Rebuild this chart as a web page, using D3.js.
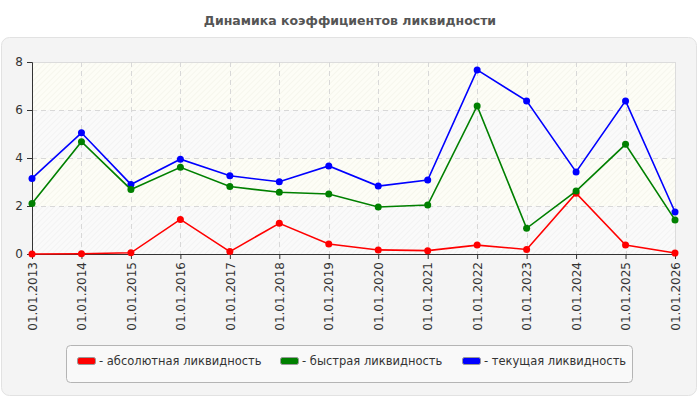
<!DOCTYPE html>
<html>
<head>
<meta charset="utf-8">
<script src="https://cdn.jsdelivr.net/npm/d3@7"></script>
<style>
  body { margin: 0; background: #fff; font-family: "DejaVu Sans", Verdana, sans-serif; }
</style>
</head>
<body>
<div id="chart"></div>
<script>
// данные
const dates = ["01.01.2013", "01.01.2014", "01.01.2015", "01.01.2016", "01.01.2017", "01.01.2018", "01.01.2019",
               "01.01.2020", "01.01.2021", "01.01.2022", "01.01.2023", "01.01.2024", "01.01.2025", "01.01.2026"];
const absLiq = [0, 0.01, 0.05, 1.44, 0.1, 1.28, 0.42, 0.17, 0.14, 0.37, 0.19, 2.53, 0.37, 0.04];
const quickLiq = [2.1, 4.68, 2.69, 3.61, 2.81, 2.57, 2.5, 1.96, 2.04, 6.17, 1.07, 2.62, 4.57, 1.42];
const currLiq = [3.15, 5.05, 2.9, 3.95, 3.26, 3.01, 3.67, 2.83, 3.08, 7.67, 6.38, 3.42, 6.38, 1.75];
const yTicks = [0, 2, 4, 6, 8];
const seriesNames = ["абсолютная ликвидность", "быстрая ликвидность", "текущая ликвидность"];
const seriesColors = ["#ff0000", "#008000", "#0000ff"];

const FONT = "'DejaVu Sans', Verdana, sans-serif";
const W = 700, H = 400;
const plot = { left: 32, right: 675, top: 62, bottom: 254 };

const svg = d3.select("#chart").append("svg")
    .attr("width", W).attr("height", H)
    .attr("font-family", FONT);

// штриховка
const defs = svg.append("defs");
function hatch(id, bg, line) {
    const p = defs.append("pattern").attr("id", id)
        .attr("patternUnits", "userSpaceOnUse")
        .attr("width", 4).attr("height", 4)
        .attr("patternTransform", "rotate(45)");
    p.append("rect").attr("width", 4).attr("height", 4).attr("fill", bg);
    p.append("line").attr("x1", 0).attr("y1", 0).attr("x2", 0).attr("y2", 4)
        .attr("stroke", line).attr("stroke-width", 1);
}
hatch("hatchY", "#fdfdf6", "#f0f0e4");
hatch("hatchG", "#fafafa", "#ececec");

// заголовок
svg.append("text")
    .attr("x", 350).attr("y", 25)
    .attr("text-anchor", "middle")
    .attr("font-size", 12.5).attr("font-weight", "bold")
    .attr("fill", "#555")
    .text("Динамика коэффициентов ликвидности");

// панель
svg.append("rect")
    .attr("x", 1.5).attr("y", 37.5).attr("width", 695).attr("height", 358)
    .attr("rx", 8).attr("fill", "#f4f4f4").attr("stroke", "#e2e2e2");

const x = d3.scalePoint().domain(dates).range([plot.left, plot.right]);
const y = d3.scaleLinear().domain([0, 8]).range([plot.bottom, plot.top]);

// полосы фона
const g = svg.append("g");
d3.range(0, 8, 2).forEach((v, i) => {
    g.append("rect")
        .attr("x", plot.left).attr("y", y(v + 2))
        .attr("width", plot.right - plot.left).attr("height", y(v) - y(v + 2))
        .attr("fill", i % 2 ? "url(#hatchY)" : "url(#hatchG)");
});
g.append("line")
    .attr("x1", plot.left).attr("x2", plot.right)
    .attr("y1", plot.top + 0.5).attr("y2", plot.top + 0.5)
    .attr("stroke", "#dcdcdc");
g.append("line")
    .attr("x1", plot.right + 0.5).attr("x2", plot.right + 0.5)
    .attr("y1", plot.top).attr("y2", plot.bottom)
    .attr("stroke", "#dcdcdc");

// сетка
g.selectAll(".vg").data(dates.slice(1, -1)).join("line")
    .attr("x1", d => Math.round(x(d)) + 0.5).attr("x2", d => Math.round(x(d)) + 0.5)
    .attr("y1", plot.top).attr("y2", plot.bottom)
    .attr("stroke", "#d8d8d8").attr("stroke-dasharray", "5,4");
g.selectAll(".hg").data(yTicks.slice(1, -1)).join("line")
    .attr("x1", plot.left).attr("x2", plot.right)
    .attr("y1", d => Math.round(y(d)) + 0.5).attr("y2", d => Math.round(y(d)) + 0.5)
    .attr("stroke", "#d8d8d8").attr("stroke-dasharray", "5,4");

// оси
const yAxis = svg.append("g")
    .attr("transform", `translate(${plot.left},0)`)
    .call(d3.axisLeft(y).tickValues(yTicks).tickSize(5).tickPadding(4));
const xAxis = svg.append("g")
    .attr("transform", `translate(0,${plot.bottom})`)
    .call(d3.axisBottom(x).tickSize(5).tickSizeOuter(0));
[yAxis, xAxis].forEach(a => {
    a.select(".domain").attr("stroke", "#333");
    a.selectAll(".tick line").attr("stroke", "#333");
    a.selectAll("text").attr("font-size", 12).attr("fill", "#333")
        .attr("font-family", FONT);
});
xAxis.selectAll("text")
    .attr("transform", "rotate(-90)")
    .attr("text-anchor", "end")
    .attr("x", -8).attr("y", 0).attr("dy", "0.35em");

// линии
const series = [absLiq, currLiq, quickLiq];
const colorsByData = [seriesColors[0], seriesColors[2], seriesColors[1]];
const line = d3.line().x((d, i) => x(dates[i])).y(d => y(d));
series.forEach((s, k) => {
    const c = colorsByData[k];
    svg.append("path").datum(s)
        .attr("d", line).attr("fill", "none")
        .attr("stroke", c).attr("stroke-width", 1.6);
    svg.append("g").selectAll("circle").data(s).join("circle")
        .attr("cx", (d, i) => x(dates[i])).attr("cy", d => y(d))
        .attr("r", 3.5).attr("fill", c);
});

// легенда
svg.append("rect")
    .attr("x", 66.5).attr("y", 345.5).attr("width", 566).attr("height", 37)
    .attr("rx", 4).attr("fill", "#f9f9f9").attr("stroke", "#b4b4b4");
const legendX = [77, 280, 462];
seriesNames.forEach((n, i) => {
    const lg = svg.append("g").attr("transform", `translate(${legendX[i]},357)`);
    lg.append("rect").attr("x", 0.5).attr("y", 0.5).attr("width", 18).attr("height", 7)
        .attr("rx", 2).attr("fill", seriesColors[i]).attr("stroke", "#999");
    lg.append("text").attr("x", 22).attr("y", 4).attr("dy", "0.35em")
        .attr("font-size", 11.5).attr("fill", "#333")
        .text("- " + n);
});
</script>
</body>
</html>
